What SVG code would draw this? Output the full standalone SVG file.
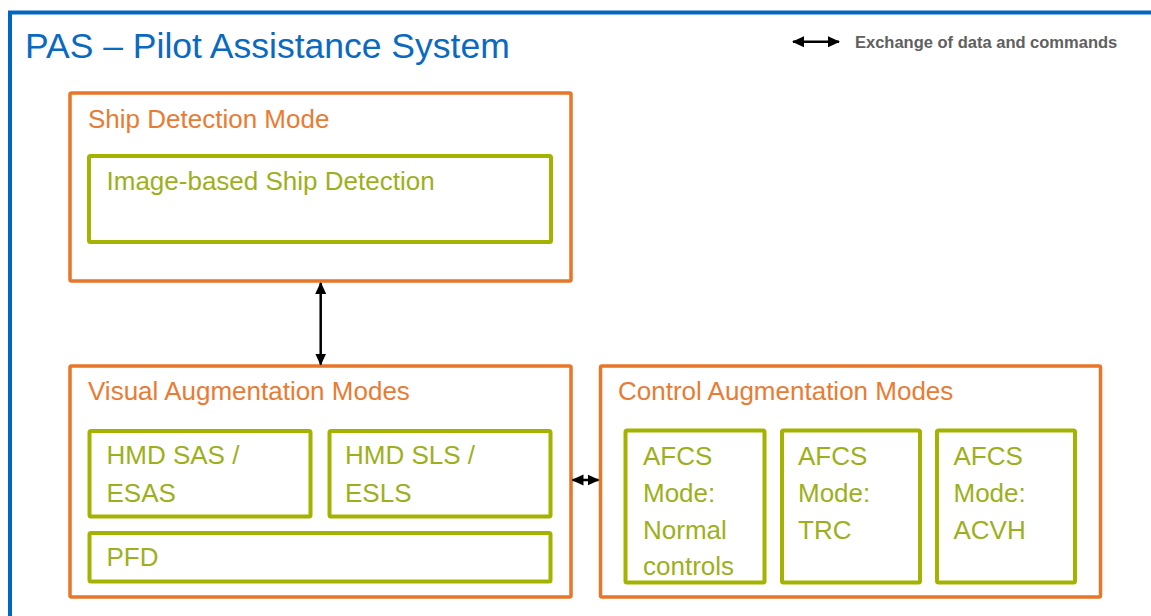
<svg xmlns="http://www.w3.org/2000/svg" width="1151" height="616" viewBox="0 0 1151 616">
  <style>
    .frame { fill: none; stroke: #0066C0; stroke-width: 4; }
    .mode { fill: #FFFFFF; stroke: #E87628; stroke-width: 3.5; }
    .func { fill: #FFFFFF; stroke: #A3B300; stroke-width: 4; }
    .title { font-family: "Liberation Sans", Arial, sans-serif; font-size: 35.5px; fill: #0A6AC2; }
    .mode-label { font-family: "Liberation Sans", Arial, sans-serif; font-size: 26px; fill: #EA7B33; }
    .func-label { font-family: "Liberation Sans", Arial, sans-serif; font-size: 26px; fill: #9DB01C; }
    .legend { font-family: "Liberation Sans", Arial, sans-serif; font-size: 16.5px; font-weight: bold; fill: #606060; }
    .link { stroke: #000000; stroke-width: 2.5; fill: none; }
  </style>
  <defs>
    <marker id="head" viewBox="0 0 12 12" refX="11" refY="6" markerWidth="12" markerHeight="12" orient="auto-start-reverse" markerUnits="userSpaceOnUse">
      <path d="M0,0.5 L12,6 L0,11.5 Z" fill="#000000"/>
    </marker>
  </defs>

  <rect width="1151" height="616" fill="#FFFFFF"/>

  <!-- system frame, running past the right and bottom edges -->
  <rect class="frame" x="10" y="12.5" width="1160" height="620"/>
  <text class="title" x="25" y="58">PAS – Pilot Assistance System</text>

  <!-- legend -->
  <g id="legend">
    <line class="link" x1="793" y1="41.7" x2="839" y2="41.7" stroke-width="3" marker-start="url(#head)" marker-end="url(#head)"/>
    <text class="legend" x="855" y="47.5">Exchange of data and commands</text>
  </g>

  <!-- Ship Detection Mode -->
  <g id="ship-detection-mode">
    <rect class="mode" x="70" y="93" width="501" height="188" rx="1.5"/>
    <text class="mode-label" x="88" y="127.5">Ship Detection Mode</text>
  </g>
  <g id="image-based-ship-detection">
    <rect class="func" x="89" y="156" width="462" height="86" rx="1.5"/>
    <text class="func-label" x="106.5" y="190">Image-based Ship Detection</text>
  </g>

  <!-- Visual Augmentation Modes -->
  <g id="visual-augmentation-modes">
    <rect class="mode" x="70" y="366" width="501" height="231" rx="1.5"/>
    <text class="mode-label" x="88" y="400">Visual Augmentation Modes</text>
  </g>
  <g id="hmd-sas">
    <rect class="func" x="89.5" y="431" width="221" height="85.5" rx="1.5"/>
    <text class="func-label" x="106.5" y="463.5">HMD SAS /</text>
    <text class="func-label" x="106.5" y="501.5">ESAS</text>
  </g>
  <g id="hmd-sls">
    <rect class="func" x="329.5" y="431" width="221" height="85.5" rx="1.5"/>
    <text class="func-label" x="345" y="463.5">HMD SLS /</text>
    <text class="func-label" x="345" y="501.5">ESLS</text>
  </g>
  <g id="pfd">
    <rect class="func" x="89.5" y="533" width="461" height="48.5" rx="1.5"/>
    <text class="func-label" x="106.5" y="565.5">PFD</text>
  </g>

  <!-- Control Augmentation Modes -->
  <g id="control-augmentation-modes">
    <rect class="mode" x="600.5" y="366" width="500" height="231" rx="1.5"/>
    <text class="mode-label" x="618" y="400">Control Augmentation Modes</text>
  </g>
  <g id="afcs-normal">
    <rect class="func" x="625.5" y="430.5" width="139" height="152" rx="1.5"/>
    <text class="func-label" x="643" y="464.5">AFCS</text>
    <text class="func-label" x="643" y="501.5">Mode:</text>
    <text class="func-label" x="643" y="538.5">Normal</text>
    <text class="func-label" x="643" y="575">controls</text>
  </g>
  <g id="afcs-trc">
    <rect class="func" x="782" y="430.5" width="138" height="152" rx="1.5"/>
    <text class="func-label" x="798" y="464.5">AFCS</text>
    <text class="func-label" x="798" y="501.5">Mode:</text>
    <text class="func-label" x="798" y="538.5">TRC</text>
  </g>
  <g id="afcs-acvh">
    <rect class="func" x="937" y="430.5" width="138" height="152" rx="1.5"/>
    <text class="func-label" x="953.5" y="464.5">AFCS</text>
    <text class="func-label" x="953.5" y="501.5">Mode:</text>
    <text class="func-label" x="953.5" y="538.5">ACVH</text>
  </g>

  <!-- data and command links -->
  <g id="connectors">
    <line class="link" x1="320.7" y1="283" x2="320.7" y2="364.5" marker-start="url(#head)" marker-end="url(#head)"/>
    <line class="link" x1="572.5" y1="480" x2="598.5" y2="480" stroke-width="3" marker-start="url(#head)" marker-end="url(#head)"/>
  </g>
</svg>
